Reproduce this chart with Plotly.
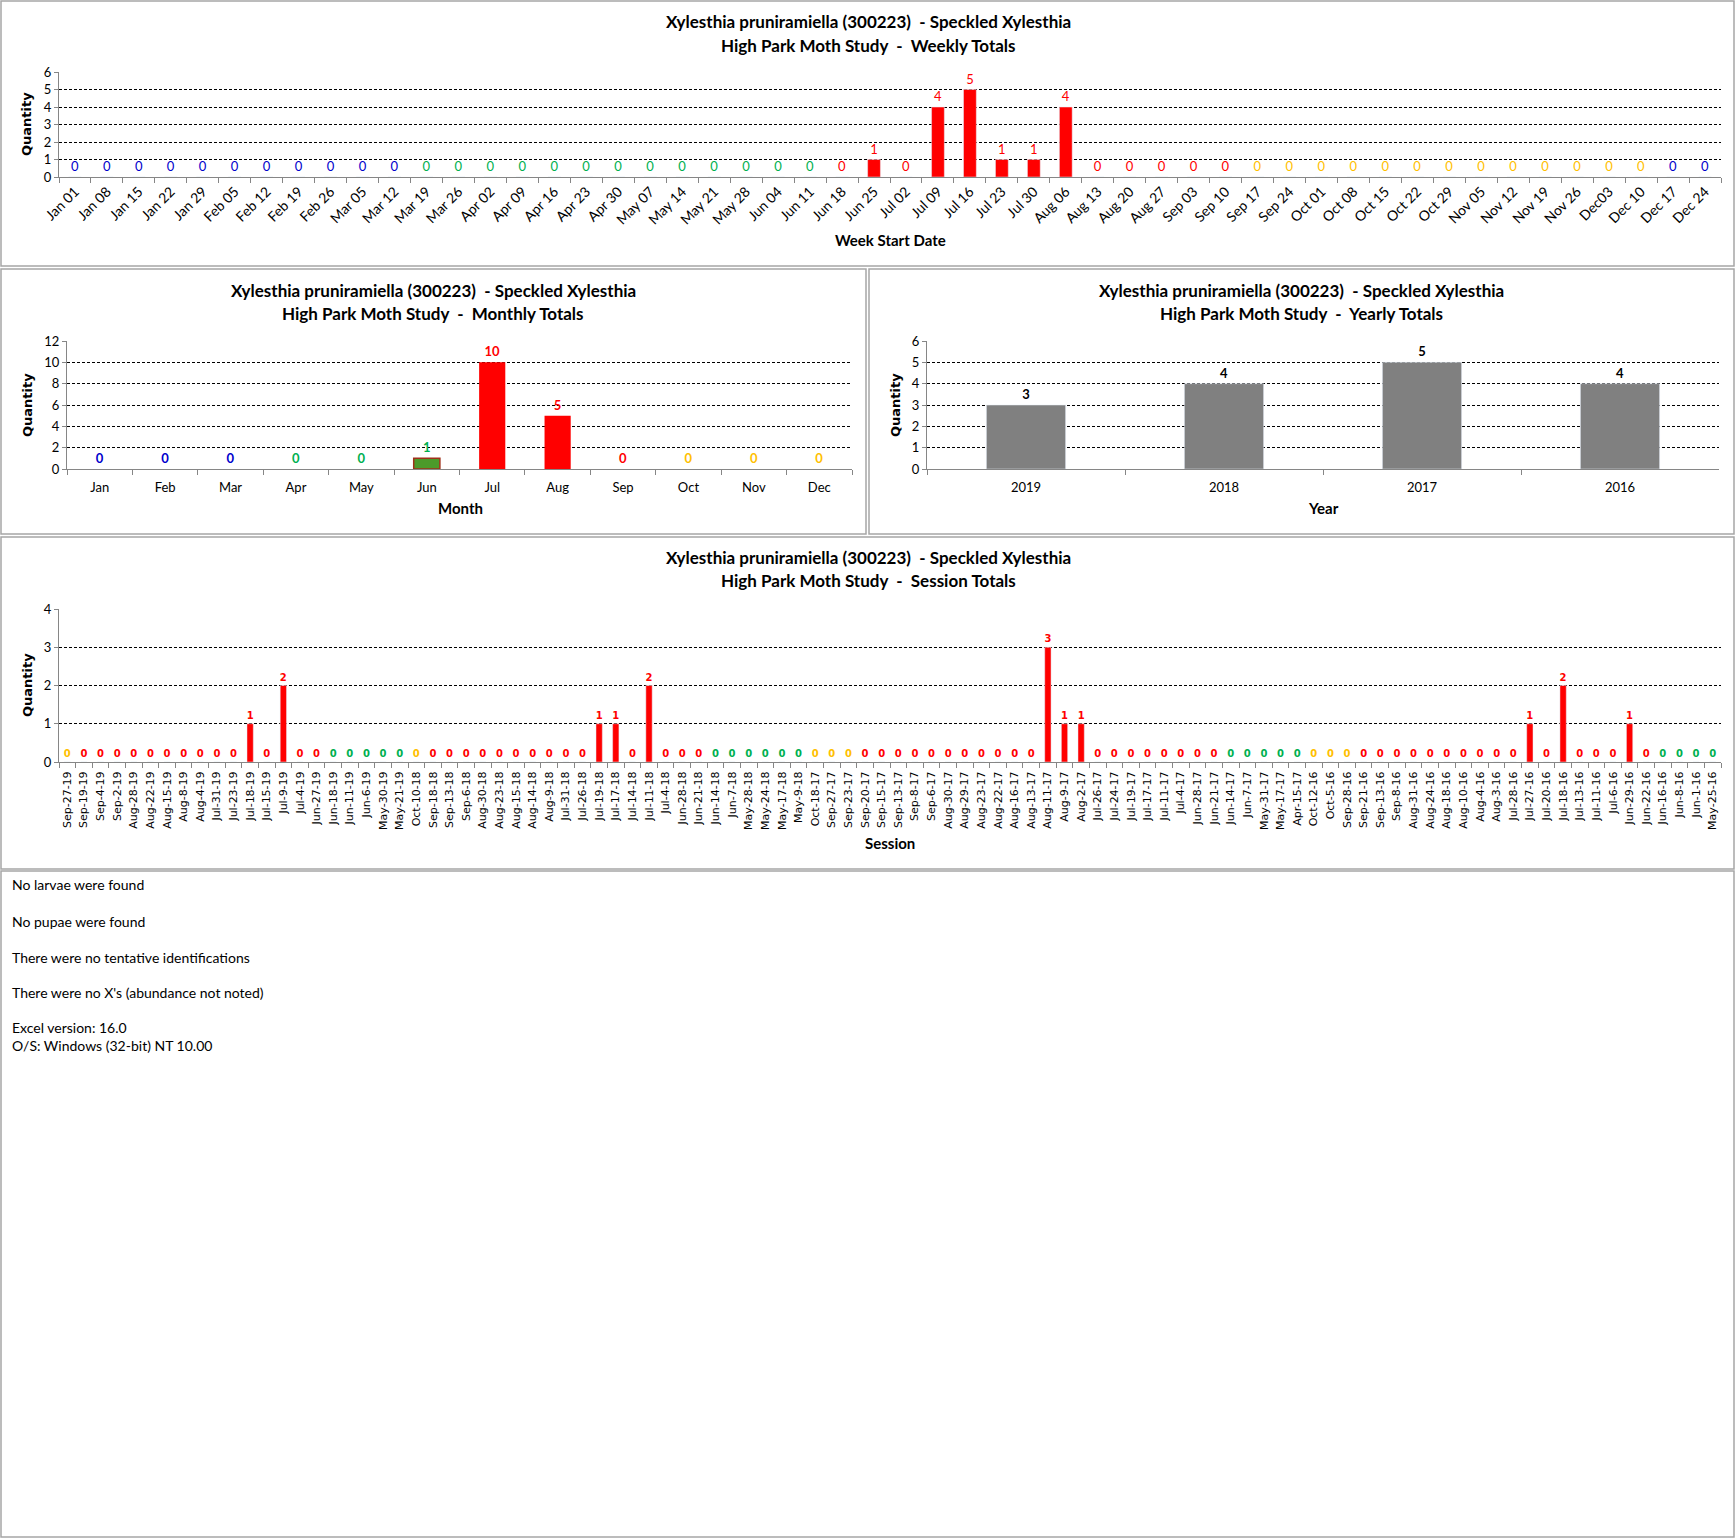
import plotly.graph_objects as go

# ---------------- DATA ----------------
title_line1 = "Xylesthia pruniramiella (300223)  - Speckled Xylesthia"

week_labels = ["Jan 01", "Jan 08", "Jan 15", "Jan 22", "Jan 29", "Feb 05", "Feb 12", "Feb 19", "Feb 26",
               "Mar 05", "Mar 12", "Mar 19", "Mar 26", "Apr 02", "Apr 09", "Apr 16", "Apr 23", "Apr 30",
               "May 07", "May 14", "May 21", "May 28", "Jun 04", "Jun 11", "Jun 18", "Jun 25",
               "Jul 02", "Jul 09", "Jul 16", "Jul 23", "Jul 30", "Aug 06", "Aug 13", "Aug 20", "Aug 27",
               "Sep 03", "Sep 10", "Sep 17", "Sep 24", "Oct 01", "Oct 08", "Oct 15", "Oct 22", "Oct 29",
               "Nov 05", "Nov 12", "Nov 19", "Nov 26", "Dec03", "Dec 10", "Dec 17", "Dec 24"]
week_values = [0] * 25 + [1, 0, 4, 5, 1, 1, 4] + [0] * 20
week_seasons = ["W"] * 11 + ["S"] * 13 + ["U"] * 13 + ["A"] * 13 + ["W"] * 2

month_labels = ["Jan", "Feb", "Mar", "Apr", "May", "Jun", "Jul", "Aug", "Sep", "Oct", "Nov", "Dec"]
month_values = [0, 0, 0, 0, 0, 1, 10, 5, 0, 0, 0, 0]
month_seasons = ["W", "W", "W", "S", "S", "S", "U", "U", "U", "A", "A", "A"]

year_labels = ["2019", "2018", "2017", "2016"]
year_values = [3, 4, 5, 4]

session_labels = [
    "Sep-27-19", "Sep-19-19", "Sep-4-19", "Sep-2-19", "Aug-28-19", "Aug-22-19", "Aug-15-19", "Aug-8-19",
    "Aug-4-19", "Jul-31-19", "Jul-23-19", "Jul-18-19", "Jul-15-19", "Jul-9-19", "Jul-4-19", "Jun-27-19",
    "Jun-18-19", "Jun-11-19", "Jun-6-19", "May-30-19", "May-21-19",
    "Oct-10-18", "Sep-18-18", "Sep-13-18", "Sep-6-18", "Aug-30-18", "Aug-23-18", "Aug-15-18", "Aug-14-18",
    "Aug-9-18", "Jul-31-18", "Jul-26-18", "Jul-19-18", "Jul-17-18", "Jul-14-18", "Jul-11-18", "Jul-4-18",
    "Jun-28-18", "Jun-21-18", "Jun-14-18", "Jun-7-18", "May-28-18", "May-24-18", "May-17-18", "May-9-18",
    "Oct-18-17", "Sep-27-17", "Sep-23-17", "Sep-20-17", "Sep-15-17", "Sep-13-17", "Sep-8-17", "Sep-6-17",
    "Aug-30-17", "Aug-29-17", "Aug-23-17", "Aug-22-17", "Aug-16-17", "Aug-13-17", "Aug-11-17", "Aug-9-17",
    "Aug-2-17", "Jul-26-17", "Jul-24-17", "Jul-19-17", "Jul-17-17", "Jul-11-17", "Jul-4-17", "Jun-28-17",
    "Jun-21-17", "Jun-14-17", "Jun-7-17", "May-31-17", "May-17-17", "Apr-15-17",
    "Oct-12-16", "Oct-5-16", "Sep-28-16", "Sep-21-16", "Sep-13-16", "Sep-8-16", "Aug-31-16", "Aug-24-16",
    "Aug-18-16", "Aug-10-16", "Aug-4-16", "Aug-3-16", "Jul-28-16", "Jul-27-16", "Jul-20-16", "Jul-18-16",
    "Jul-13-16", "Jul-11-16", "Jul-6-16", "Jun-29-16", "Jun-22-16", "Jun-16-16", "Jun-8-16", "Jun-1-16",
    "May-25-16"]
session_values = [
    0, 0, 0, 0, 0, 0, 0, 0, 0, 0, 0, 1, 0, 2, 0, 0, 0, 0, 0, 0, 0,
    0, 0, 0, 0, 0, 0, 0, 0, 0, 0, 0, 1, 1, 0, 2, 0, 0, 0, 0, 0, 0, 0, 0, 0,
    0, 0, 0, 0, 0, 0, 0, 0, 0, 0, 0, 0, 0, 0, 3, 1, 1, 0, 0, 0, 0, 0, 0, 0, 0, 0, 0, 0, 0, 0,
    0, 0, 0, 0, 0, 0, 0, 0, 0, 0, 0, 0, 0, 1, 0, 2, 0, 0, 0, 1, 0, 0, 0, 0, 0]
session_seasons = (
    ["A"] + ["U"] * 15 + ["S"] * 5 +
    ["A"] + ["U"] * 17 + ["S"] * 6 +
    ["A"] * 3 + ["U"] * 22 + ["S"] * 5 +
    ["A"] * 3 + ["U"] * 18 + ["S"] * 4)

notes = ["No larvae were found", "No pupae were found", "There were no tentative identifications",
         "There were no X's (abundance not noted)", "Excel version: 16.0", "O/S: Windows (32-bit) NT 10.00"]

# ---------------- STYLE ----------------
W, H = 1736, 1538
season_color = {"W": "#0000CC", "S": "#00B050", "U": "#FF0000", "A": "#FFC000"}
RED = "#FF0000"
AXIS = "#868686"
FONT = "Lato"


def xd(a, b):
    return [a / W, b / W]


def yd(top, bottom):
    return [1 - bottom / H, 1 - top / H]


fig = go.Figure()

# weekly
fig.add_trace(go.Bar(x=week_labels, y=week_values, marker_color=RED, xaxis="x", yaxis="y",
                     text=[str(v) for v in week_values], textposition="outside",
                     textfont=dict(family=FONT, size=13,
                                   color=[season_color[s] for s in week_seasons]),
                     constraintext="none", cliponaxis=False))
# monthly
month_bar_colors = [RED if s == "U" else "#4C9A2A" for s in month_seasons]
month_line_widths = [1.5 if (v > 0 and s != "U") else 0 for v, s in zip(month_values, month_seasons)]
fig.add_trace(go.Bar(x=month_labels, y=month_values, xaxis="x2", yaxis="y2",
                     marker=dict(color=month_bar_colors, line=dict(color="#A0301A", width=month_line_widths)),
                     text=["<b>%d</b>" % v for v in month_values], textposition="outside",
                     textfont=dict(family=FONT, size=13,
                                   color=[season_color[s] for s in month_seasons]),
                     constraintext="none", cliponaxis=False))
# yearly
fig.add_trace(go.Bar(x=year_labels, y=year_values, marker_color="#808080", xaxis="x3", yaxis="y3",
                     text=["<b>%d</b>" % v for v in year_values], textposition="outside",
                     textfont=dict(family=FONT, size=13, color="black"),
                     constraintext="none", cliponaxis=False))
# session
fig.add_trace(go.Bar(x=session_labels, y=session_values, marker_color=RED, xaxis="x4", yaxis="y4",
                     width=0.38,
                     text=["<b>%d</b>" % v for v in session_values], textposition="outside",
                     textfont=dict(family="DejaVu Sans", size=10,
                                   color=[season_color[s] for s in session_seasons]),
                     constraintext="none", cliponaxis=False))

xcommon = dict(type="category", showline=True, linecolor=AXIS, linewidth=1, ticks="outside",
               tickcolor=AXIS, ticklen=5, tickson="boundaries", showgrid=False, fixedrange=True,
               automargin=False, tickfont=dict(family=FONT, size=13, color="black"))
ycommon = dict(showline=True, linecolor=AXIS, linewidth=1, ticks="outside", tickcolor=AXIS, ticklen=4,
               showgrid=True, gridcolor="black", griddash="3px,2px", gridwidth=1, zeroline=False,
               automargin=False, tickfont=dict(family=FONT, size=13, color="black"), fixedrange=True)

fig.update_layout(
    width=W, height=H, autosize=False, margin=dict(l=0, r=0, t=0, b=0, pad=0, autoexpand=False),
    paper_bgcolor="white", plot_bgcolor="white",
    showlegend=False, bargap=0.6,
    xaxis=dict(xcommon, domain=xd(59, 1721), anchor="y", tickangle=-45,
               tickfont=dict(family=FONT, size=14, color="black")),
    yaxis=dict(ycommon, domain=yd(72, 177), anchor="x", range=[0, 6], dtick=1),
    xaxis2=dict(xcommon, domain=xd(67, 852), anchor="y2", tickangle=0, ticklabelstandoff=6),
    yaxis2=dict(ycommon, domain=yd(341, 469), anchor="x2", range=[0, 12], dtick=2),
    xaxis3=dict(xcommon, domain=xd(927, 1719), anchor="y3", tickangle=0, ticklabelstandoff=6),
    yaxis3=dict(ycommon, domain=yd(341, 469), anchor="x3", range=[0, 6], dtick=1),
    xaxis4=dict(xcommon, domain=xd(59, 1721), anchor="y4", tickangle=-90, ticklabelstandoff=4,
                tickfont=dict(family="DejaVu Sans", size=11, color="black")),
    yaxis4=dict(ycommon, domain=yd(609, 762), anchor="x4", range=[0, 4], dtick=1),
)

# panel borders
panels = [(1, 1, 1734, 266), (1, 269, 866, 534), (869, 269, 1734, 534), (1, 537, 1734, 869),
          (1, 871, 1734, 1537)]
for (x0, y0, x1, y1) in panels:
    fig.add_shape(type="rect", xref="paper", yref="paper", x0=x0 / W, x1=x1 / W,
                  y0=1 - y0 / H, y1=1 - y1 / H, line=dict(color="#A6A6A6", width=1.5))

annotations = []


def title(cx, y1, sub):
    for txt, yy in ((title_line1, y1), ("High Park Moth Study  -  " + sub, y1 + 23)):
        annotations.append(dict(text="<b>%s</b>" % txt, x=cx / W, y=1 - yy / H, xref="paper", yref="paper",
                                showarrow=False, xanchor="center", yanchor="middle",
                                font=dict(family=FONT, size=17, color="black")))


title(868, 22, "Weekly Totals")
title(433, 290, "Monthly Totals")
title(1301, 290, "Yearly Totals")
title(868, 557, "Session Totals")


def axtitle(txt, cx, yy, angle=0, fam=FONT, size=15):
    annotations.append(dict(text="<b>%s</b>" % txt, x=cx / W, y=1 - yy / H, xref="paper", yref="paper",
                            showarrow=False, xanchor="center", yanchor="middle", textangle=angle,
                            font=dict(family=fam, size=size, color="black")))


axtitle("Week Start Date", 890, 240)
axtitle("Month", 460, 508)
axtitle("Year", 1323, 508)
axtitle("Session", 890, 843)
for cx, cy in ((27, 124), (27, 405), (895, 405), (27, 685)):
    axtitle("Quantity", cx, cy, angle=-90, fam="DejaVu Sans", size=13)

note_y = [884, 921, 957, 992, 1027, 1045]
for txt, yy in zip(notes, note_y):
    annotations.append(dict(text=txt, x=10 / W, y=1 - yy / H, xref="paper", yref="paper", showarrow=False,
                            xanchor="left", yanchor="middle", font=dict(family=FONT, size=14, color="black")))

fig.update_layout(annotations=annotations)

fig.write_html("out.html", config={"displayModeBar": False, "staticPlot": True},
               post_script="document.documentElement.style.margin='0';document.body.style.margin='0';"
                           "document.body.style.padding='0';document.body.style.overflow='hidden';"
                           "var gd=document.getElementById('{plot_id}');"
                           "gd.style.position='fixed';gd.style.left='0px';gd.style.top='0px';")
